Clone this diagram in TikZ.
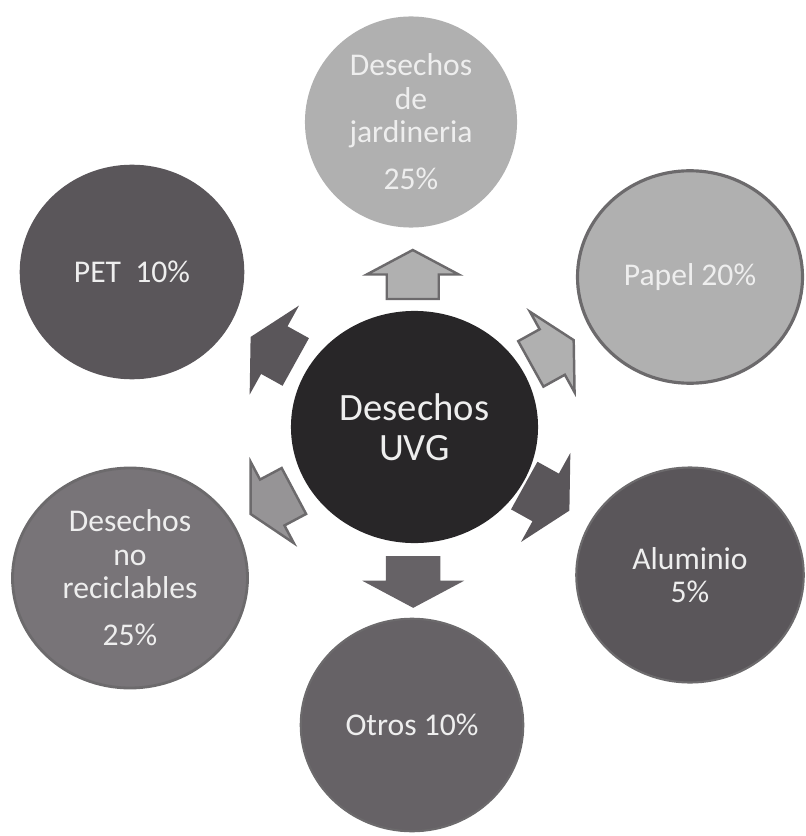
\documentclass[tikz,border=0pt]{standalone}
\usepackage{fontspec}
\setmainfont{Carlito}
\usetikzlibrary{shapes.geometric,calc}
\definecolor{gclaro}{RGB}{176,176,176}
\definecolor{gflecha}{RGB}{150,148,150}
\definecolor{gborde}{RGB}{108,106,108}
\definecolor{gmedio}{RGB}{120,116,120}
\definecolor{gotros}{RGB}{102,98,102}
\definecolor{goscuro}{RGB}{90,86,90}
\definecolor{gnegro}{RGB}{40,38,40}
\definecolor{gtexto}{RGB}{238,238,238}
\tikzset{
  circulo/.style={ellipse, draw=gborde, line width=1.2pt, text=gtexto, align=center,
    inner sep=0pt, font=\fontsize{18}{19}\selectfont,
    minimum width=4.45cm, minimum height=4.25cm},
  centro/.style={circulo, fill=gnegro, draw=gnegro, font=\fontsize{22}{23}\selectfont,
    minimum width=4.9cm, minimum height=4.6cm},
  flecha/.pic={
    \path[pic actions, line width=1.4pt, line join=miter]
      (-0.49,-0.52) -- (0,-0.52) -- (0,-0.92) -- (0.49,0) -- (0,0.92) -- (0,0.52) -- (-0.49,0.52) -- cycle;
  }
}
\begin{document}
\begin{tikzpicture}
\useasboundingbox (0,0) rectangle (16.12,-16.72);
% centro
\node[centro] (uvg) at (8.29,-8.54) {Desechos\\UVG};
% alrededor
\node[circulo, fill=gclaro, draw=gclaro, minimum width=4.2cm, minimum height=4.18cm] (jard) at (8.22,-2.44) {Desechos\\de\\jardineria\\[8pt]25\%};
\node[circulo, fill=goscuro, draw=goscuro] (pet) at (2.64,-5.44) {PET~~10\%};
\node[circulo, fill=gclaro, line width=1.8pt, minimum width=4.5cm] (papel) at (13.8,-5.54) {Papel 20\%};
\node[circulo, fill=goscuro, minimum width=4.55cm, minimum height=4.3cm] (alu) at (13.8,-11.5) {Aluminio\\5\%};
\node[circulo, fill=gotros] (otros) at (8.24,-14.5) {Otros 10\%};
\node[circulo, fill=gmedio, line width=1.6pt, minimum width=4.7cm, minimum height=4.4cm] (norec) at (2.6,-11.56) {Desechos\\no\\reciclables\\[8pt]25\%};
% flechas
\pic[fill=gclaro, draw=gborde, rotate=90] at ($(uvg)!0.5!(jard)$) {flecha};
\pic[fill=gclaro, draw=gborde, rotate=29] at ($(uvg)!0.5!(papel)$) {flecha};
\pic[fill=goscuro, draw=goscuro, rotate=-29] at ($(uvg)!0.48!(alu)$) {flecha};
\pic[fill=gotros, draw=gotros, rotate=-90] at ($(uvg)!0.52!(otros)$) {flecha};
\pic[fill=gflecha, draw=gborde, rotate=-152] at ($(uvg)!0.5!(norec)$) {flecha};
\pic[fill=goscuro, draw=goscuro, rotate=151] at ($(uvg)!0.5!(pet)$) {flecha};
\end{tikzpicture}
\end{document}
